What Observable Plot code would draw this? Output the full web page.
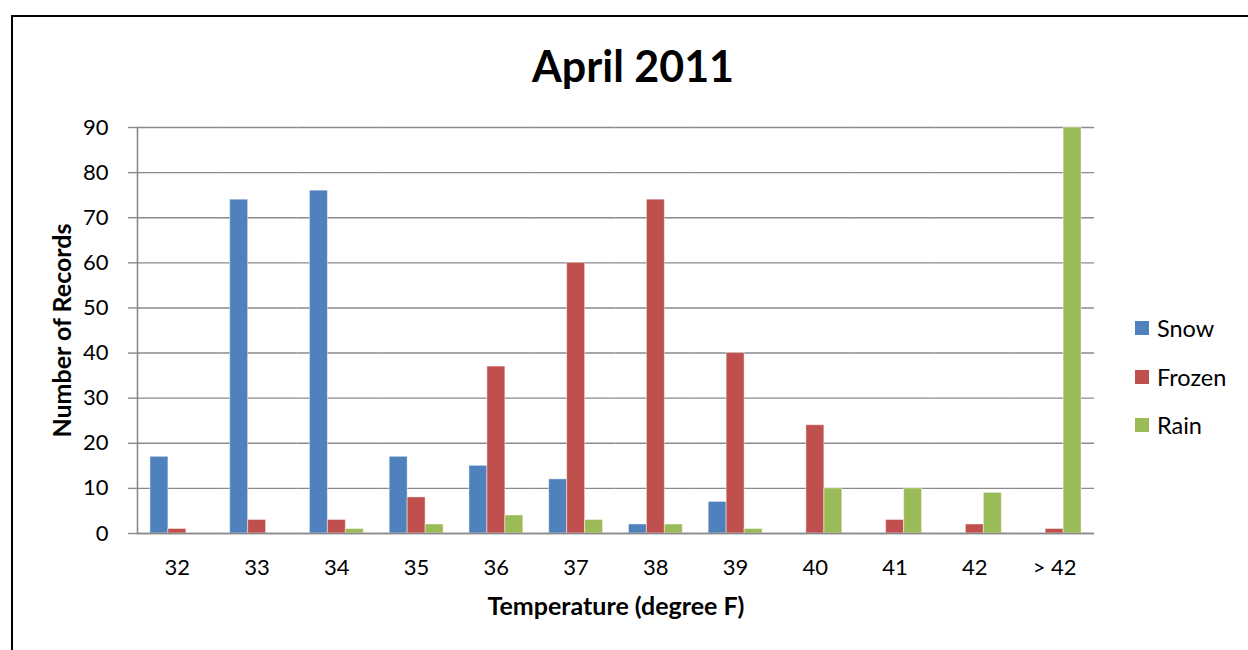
<!DOCTYPE html>
<html>
<head>
<meta charset="utf-8">
<script src="https://cdn.jsdelivr.net/npm/d3@7"></script>
<script src="https://cdn.jsdelivr.net/npm/@observablehq/plot@0.6"></script>
<style>
  html, body { margin: 0; padding: 0; background: #fff; }
  #wrap { position: relative; width: 1248px; height: 650px; overflow: hidden; font-family: Lato, "Open Sans", sans-serif; }
  #frame { position: absolute; left: 11px; top: 15px; width: 1260px; height: 660px; border: 2px solid #000; box-sizing: border-box; pointer-events: none; }
  #title { position: absolute; left: 11px; width: 1244px; top: 40px; text-align: center; font-weight: 700; font-size: 43px; line-height: 52px; color: #000; }
  #chart { position: absolute; left: 0; top: 0; }
  #legend { position: absolute; left: 1135px; top: 313px; font-size: 23.5px; color: #000; }
  #legend .item { display: flex; align-items: center; height: 30px; margin-bottom: 18.5px; }
  #legend .sw { width: 14px; height: 14px; margin-right: 8px; }
</style>
</head>
<body>
<div id="wrap">
  <div id="chart"></div>
  <div id="title">April 2011</div>
  <div id="legend"></div>
  <div id="frame"></div>
</div>
<script>
const categories = ["32", "33", "34", "35", "36", "37", "38", "39", "40", "41", "42", "> 42"];
const seriesNames = ["Snow", "Frozen", "Rain"];
const seriesColors = ["#4F81BD", "#C0504D", "#9BBB59"];
const snow   = [17, 74, 76, 17, 15, 12,  2,  7,  0,  0, 0,  0];
const frozen = [ 1,  3,  3,  8, 37, 60, 74, 40, 24,  3, 2,  1];
const rain   = [ 0,  0,  1,  2,  4,  3,  2,  1, 10, 10, 9, 90];
const yTicks = [0, 10, 20, 30, 40, 50, 60, 70, 80, 90];

const seriesValues = [snow, frozen, rain];
const table = [];
categories.forEach((c, i) => {
  seriesNames.forEach((s, j) => {
    table.push({cat: c, series: s, value: seriesValues[j][i]});
  });
});

const gridColor = "#8a8a8a";

const plot = Plot.plot({
  width: 1248,
  height: 650,
  marginLeft: 137,
  marginRight: 154,
  marginTop: 127,
  marginBottom: 117,
  style: {fontFamily: "Lato, 'Open Sans', sans-serif", background: "transparent", color: "#000"},
  fx: {domain: categories, padding: 0, round: false, label: null},
  x: {domain: seriesNames, paddingInner: 0, paddingOuter: 0.72, round: false, axis: null},
  y: {domain: [0, 90], label: null},
  color: {domain: seriesNames, range: seriesColors},
  marks: [
    Plot.gridY(yTicks, {stroke: gridColor, strokeOpacity: 1, strokeWidth: 1.4}),
    Plot.barY(table, {fx: "cat", x: "series", y: "value", fill: "series", stroke: "#ffffff", strokeOpacity: 0.45, strokeWidth: 1}),
    Plot.ruleY([0], {stroke: gridColor, strokeWidth: 1.6}),
    Plot.frame({anchor: "left", stroke: gridColor, strokeWidth: 1.6, facetAnchor: "left"}),
    Plot.axisY({ticks: yTicks, tickSize: 9, tickPadding: 20, fontSize: 22, stroke: gridColor, strokeWidth: 1.4, label: null, tickFormat: d => String(d)}),
    Plot.axisFx({anchor: "bottom", tickSize: 0, tickPadding: 26, fontSize: 22, label: null}),
    Plot.text(["Temperature (degree F)"], {frameAnchor: "bottom", dy: 81, fontSize: 25, fontWeight: "bold", facet: "super"}),
    Plot.text(["Number of Records"], {frameAnchor: "left", textAnchor: "middle", dx: -75, rotate: -90, fontSize: 25, fontWeight: "bold", facet: "super"})
  ]
});
document.getElementById("chart").appendChild(plot);

const legend = document.getElementById("legend");
seriesNames.forEach((s, i) => {
  const item = document.createElement("div");
  item.className = "item";
  const sw = document.createElement("div");
  sw.className = "sw";
  sw.style.background = seriesColors[i];
  const t = document.createElement("span");
  t.textContent = s;
  item.appendChild(sw);
  item.appendChild(t);
  legend.appendChild(item);
});
</script>
</body>
</html>
